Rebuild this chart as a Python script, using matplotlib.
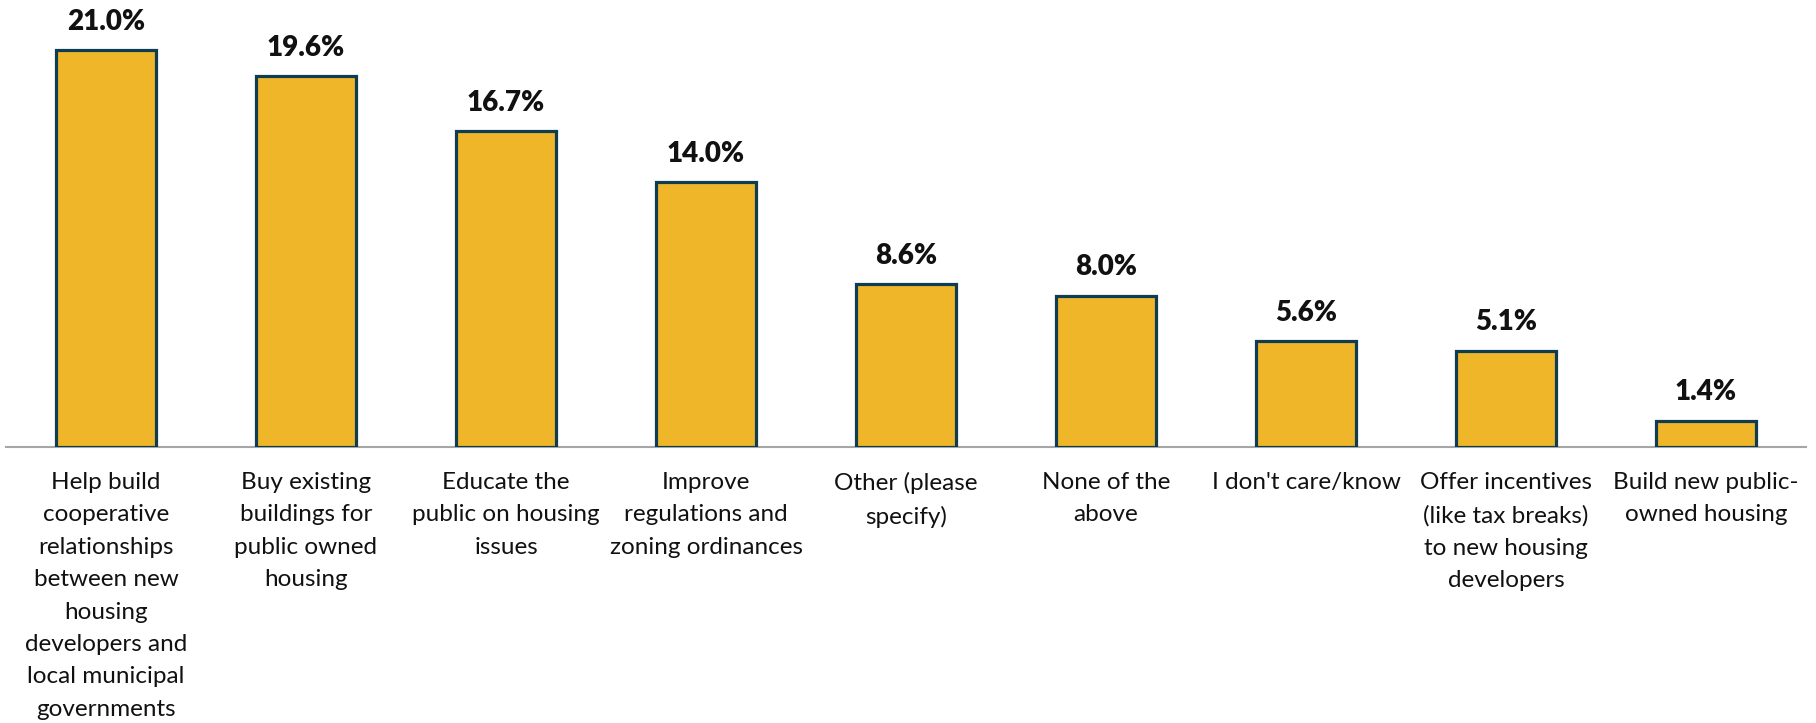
import matplotlib
matplotlib.use("Agg")
import matplotlib.pyplot as plt

categories = [
    "Help build\ncooperative\nrelationships\nbetween new\nhousing\ndevelopers and\nlocal municipal\ngovernments",
    "Buy existing\nbuildings for\npublic owned\nhousing",
    "Educate the\npublic on housing\nissues",
    "Improve\nregulations and\nzoning ordinances",
    "Other (please\nspecify)",
    "None of the\nabove",
    "I don't care/know",
    "Offer incentives\n(like tax breaks)\nto new housing\ndevelopers",
    "Build new public-\nowned housing",
]
values = [21.0, 19.6, 16.7, 14.0, 8.6, 8.0, 5.6, 5.1, 1.4]

W, H = 1816, 723
fig = plt.figure(figsize=(W / 100, H / 100), dpi=100)
ax_left, ax_right = 6, 1806
ax_base, ax_top = 447, 10
ax = fig.add_axes([ax_left / W, (H - ax_base) / H, (ax_right - ax_left) / W, (ax_base - ax_top) / H])

x = list(range(len(values)))
ax.bar(x, values, width=0.5, color="#EFB62A", edgecolor="#0E3D52", linewidth=2.3, zorder=3)

ax.set_xlim(-0.5, len(values) - 0.5)
ax.set_ylim(0, (ax_base - ax_top) / (397 / 21.0))

for xi, v in zip(x, values):
    ax.annotate(f"{v:.1f}%", (xi, v), xytext=(0, 11), textcoords="offset points",
                ha="center", va="bottom", fontsize=20, fontweight="heavy",
                family="Lato", color="#111111")

for s in ["top", "right", "left"]:
    ax.spines[s].set_visible(False)
ax.spines["bottom"].set_color("#A6A6A6")
ax.spines["bottom"].set_linewidth(1.5)
ax.spines["bottom"].set_zorder(2)
ax.set_yticks([])
ax.set_xticks(x)
ax.set_xticklabels(categories, fontsize=17.5, family="Lato", color="#111111",
                   linespacing=1.67, va="top")
ax.tick_params(axis="x", length=0, pad=18)

fig.savefig("out.png", dpi=100)
